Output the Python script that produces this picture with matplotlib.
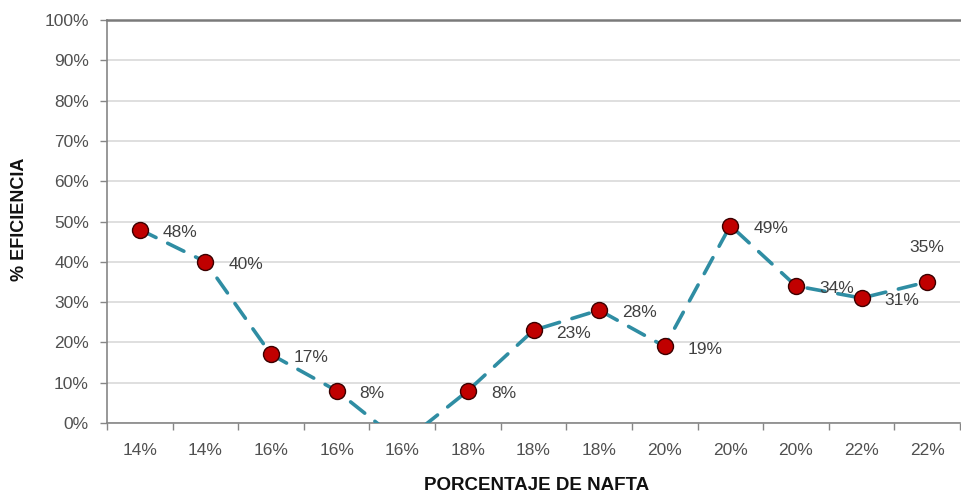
import numpy as np
import matplotlib.pyplot as plt

plt.rcParams['font.family'] = ['Liberation Sans', 'DejaVu Sans']

# Nafta percentage per trial and measured efficiency (%)
categorias = ['14%', '14%', '16%', '16%', '16%', '18%', '18%', '18%',
              '20%', '20%', '20%', '22%', '22%']
eficiencia = [48, 40, 17, 8, -5, 8, 23, 28, 19, 49, 34, 31, 35]
# label placement for each point: 'r' right of marker, 't' above, None = hidden
posicion = ['r', 'r', 'r', 'r', None, 'r', 'r', 'r', 'r', 'r', 'r', 'r', 't']

x = np.arange(len(categorias))

fig = plt.figure(figsize=(9.61, 4.96), dpi=100)
ax = fig.add_axes([107 / 961, 1 - 423 / 496, 853 / 961, 403 / 496])

ax.plot(x, eficiencia, color='#2f8da3', lw=2.6, dashes=(5, 3.6),
        dash_capstyle='round', zorder=3)
ax.plot(x, eficiencia, ls='none', marker='o', ms=11.5,
        mfc='#c00000', mec='#3a0000', mew=1.0, zorder=4)

for xi, v, p in zip(x, eficiencia, posicion):
    if p == 'r':
        ax.annotate(f'{v}%', (xi, v), xytext=(16.5, -2), textcoords='offset points',
                    ha='left', va='center', fontsize=12.5, color='#404040', zorder=5)
    elif p == 't':
        ax.annotate(f'{v}%', (xi, v), xytext=(0, 24.5), textcoords='offset points',
                    ha='center', va='center', fontsize=12.5, color='#404040', zorder=5)

ax.set_xlim(-0.5, len(categorias) - 0.5)
ax.set_ylim(0, 100)

# y axis: percent ticks with outward marks and light gridlines
ax.set_yticks(np.arange(0, 101, 10))
ax.set_yticklabels([f'{t}%' for t in range(0, 101, 10)])
ax.tick_params(axis='y', direction='out', length=5, width=1, color='#868686',
               labelsize=12.5, labelcolor='#505050', pad=8)
ax.grid(axis='y', color='#d9d9d9', lw=1.2, zorder=0)

# x axis: labels centered on categories, tick marks on the boundaries
ax.set_xticks(x)
ax.set_xticklabels(categorias)
ax.set_xticks(np.arange(-0.5, len(categorias)), minor=True)
ax.tick_params(axis='x', which='major', length=0, labelsize=12.5,
               labelcolor='#505050', pad=14.5)
ax.tick_params(axis='x', which='minor', direction='out', length=5, width=1,
               color='#868686')

ax.spines['right'].set_visible(False)
ax.spines['left'].set_color('#868686')
ax.spines['bottom'].set_color('#868686')
ax.spines['top'].set_color('#7a7a7a')
ax.spines['top'].set_linewidth(1.8)
ax.spines['left'].set_linewidth(1.2)
ax.spines['bottom'].set_linewidth(1.2)

fig.text(20 / 961, 1 - 219 / 496, '% EFICIENCIA', rotation=90, ha='center',
         va='center', fontsize=13, fontweight='bold', color='#111111')
fig.text(537 / 961, 1 - 485 / 496, 'PORCENTAJE DE NAFTA', ha='center',
         va='center', fontsize=13.5, fontweight='bold', color='#111111')

fig.savefig('out.png', dpi=100)
